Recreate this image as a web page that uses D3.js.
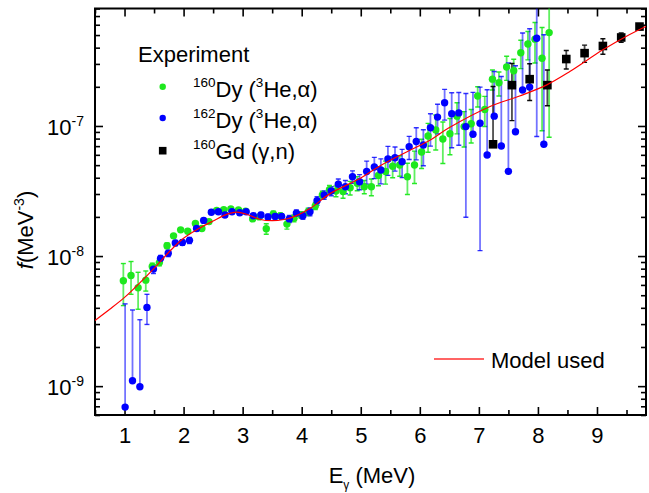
<!DOCTYPE html>
<html><head><meta charset="utf-8">
<script src="https://cdn.jsdelivr.net/npm/d3@7"></script>
<style>
html,body{margin:0;padding:0;background:#fff;}
svg{display:block;font-family:"Liberation Sans",Arial,sans-serif;}
</style></head>
<body><svg id="c" width="649" height="493"></svg>
<script>
// ---------- data ----------
const dy160E = [0.98,1.11,1.23,1.36,1.47,1.59,1.72,1.83,1.95,2.07,2.20,2.31,2.43,2.56,2.68,2.80,2.93,3.05,3.17,3.28,3.40,3.52,3.64,3.75,3.87,3.99,4.11,4.23,4.35,4.47,4.58,4.70,4.82,4.94,5.06,5.18,5.30,5.42,5.54,5.66,5.79,5.91,6.03,6.14,6.27,6.39,6.51,6.63,6.75,6.87,6.98,7.10,7.23,7.34,7.47,7.59,7.71,7.83,7.95,8.07,8.19];
const dy160F = [6.46e-9,7.08e-9,5.70e-9,6.53e-9,8.32e-9,8.91e-9,1.20e-8,1.43e-8,1.59e-8,1.55e-8,1.78e-8,1.63e-8,1.84e-8,2.24e-8,2.27e-8,2.30e-8,2.26e-8,2.21e-8,1.93e-8,2.00e-8,1.62e-8,2.11e-8,2.04e-8,1.76e-8,1.95e-8,2.07e-8,2.19e-8,2.43e-8,2.95e-8,3.24e-8,3.16e-8,3.13e-8,3.35e-8,3.63e-8,3.41e-8,3.41e-8,4.17e-8,4.47e-8,4.90e-8,5.01e-8,4.07e-8,5.01e-8,6.31e-8,8.38e-8,9.33e-8,7.94e-8,8.71e-8,1.19e-7,9.89e-8,1.04e-7,1.70e-7,1.34e-7,2.29e-7,2.15e-7,2.84e-7,2.66e-7,3.66e-7,4.27e-7,4.65e-7,3.32e-7,5.22e-7];
const dy160Err = [2.3e-9,2.0e-9,1.8e-9,1.15e-9,0.5e-9,0.5e-9,0.06e-8,0.05e-8,0.05e-8,0.05e-8,0.05e-8,0.05e-8,0.06e-8,0.07e-8,0.07e-8,0.07e-8,0.07e-8,0.08e-8,0.08e-8,0.08e-8,0.15e-8,0.1e-8,0.1e-8,0.15e-8,0.12e-8,0.12e-8,0.14e-8,0.15e-8,0.2e-8,0.25e-8,0.3e-8,0.35e-8,0.4e-8,0.45e-8,0.4e-8,0.5e-8,0.7e-8,0.9e-8,0.9e-8,0.9e-8,1.1e-8,1.4e-8,1.6e-8,2.1e-8,2.8e-8,2.8e-8,2.7e-8,3.2e-8,3.0e-8,3.0e-8,3.0e-8,3.5e-8,4.0e-8,4.5e-8,6.0e-8,6.0e-8,9.0e-8,1.05e-7,1.6e-7,2.4e-7,4.4e-7];

const dy162E = [1.01,1.135,1.26,1.38,1.49,1.61,1.74,1.86,1.98,2.10,2.22,2.34,2.47,2.59,2.70,2.82,2.95,3.06,3.18,3.31,3.43,3.55,3.66,3.79,3.91,4.02,4.14,4.26,4.38,4.50,4.62,4.74,4.86,4.98,5.10,5.23,5.34,5.46,5.58,5.70,5.82,5.94,6.06,6.18,6.30,6.42,6.54,6.66,6.78,6.90,7.02,7.14,7.26,7.38,7.50,7.62,7.74,7.86,7.98,8.10];
const dy162F = [6.9e-10,1.1e-9,9.9e-10,4.03e-9,7.94e-9,9.6e-9,1.05e-8,1.26e-8,1.27e-8,1.32e-8,1.63e-8,1.88e-8,2.17e-8,2.19e-8,2.07e-8,2.19e-8,2.15e-8,2.19e-8,2.04e-8,2.07e-8,2.00e-8,2.02e-8,2.02e-8,1.93e-8,2.14e-8,2.04e-8,2.19e-8,2.66e-8,2.95e-8,3.16e-8,3.56e-8,3.41e-8,4.07e-8,3.73e-8,4.47e-8,4.84e-8,4.59e-8,5.57e-8,5.70e-8,5.31e-8,6.92e-8,7.59e-8,7.15e-8,9.70e-8,1.17e-7,1.51e-7,1.24e-7,1.26e-7,9.89e-8,8.63e-8,1.05e-7,5.98e-8,1.19e-7,7.02e-8,4.48e-8,9.04e-8,1.89e-7,1.99e-7,4.73e-7,7.23e-8];
const dy162Err = [3.6e-9,2.75e-9,2.25e-9,1.05e-9,0.6e-9,0.5e-9,0.06e-8,0.06e-8,0.06e-8,0.07e-8,0.07e-8,0.07e-8,0.08e-8,0.08e-8,0.08e-8,0.08e-8,0.08e-8,0.08e-8,0.08e-8,0.09e-8,0.1e-8,0.1e-8,0.1e-8,0.12e-8,0.12e-8,0.12e-8,0.15e-8,0.2e-8,0.22e-8,0.25e-8,0.35e-8,0.4e-8,0.45e-8,0.5e-8,0.9e-8,0.9e-8,1.0e-8,1.4e-8,1.2e-8,1.3e-8,1.4e-8,2.1e-8,2.2e-8,2.7e-8,3.0e-8,4.0e-8,5.6e-8,5.5e-8,7.9e-8,9.5e-8,9.4e-8,1.3e-7,1.43e-7,1.7e-7,2.6e-7,2.0e-7,3.3e-7,3.6e-7,3.9e-7,4.3e-7];

const gdE = [7.24,7.56,7.86,8.16,8.48,8.79,9.10,9.41,9.72];
const gdF = [7.23e-8,2.06e-7,2.29e-7,2.06e-7,3.27e-7,3.63e-7,4.12e-7,4.79e-7,5.81e-7];
const gdErr = [1.29e-7,0.96e-7,0.72e-7,0.63e-7,0.53e-7,0.55e-7,0.56e-7,0.4e-7,0.3e-7];

const modelE = [0.5,0.75,1.0,1.25,1.5,1.75,2.0,2.25,2.5,2.75,2.9,3.1,3.3,3.5,3.7,3.86,4.14,4.48,5.0,5.33,5.84,6.17,6.48,7.19,7.69,8.15,8.54,9.1,9.5,9.88];
const modelF = [3.2e-9,3.9e-9,4.81e-9,6.17e-9,8.04e-9,1.07e-8,1.37e-8,1.62e-8,1.86e-8,2.11e-8,2.18e-8,2.07e-8,1.91e-8,1.87e-8,1.91e-8,2.0e-8,2.32e-8,3.02e-8,3.98e-8,4.95e-8,6.53e-8,7.76e-8,9.59e-8,1.41e-7,1.70e-7,2.07e-7,2.62e-7,3.85e-7,4.9e-7,5.98e-7];

const xMajorTicks = [1,2,3,4,5,6,7,8,9];
const xMinorTicks = [0.5,1.5,2.5,3.5,4.5,5.5,6.5,7.5,8.5,9.5];
const yMajorTicks = [1e-9,1e-8,1e-7];
const yMajorExp = ["-9","-8","-7"];
const yMinorMult = [2,3,4,5,6,7,8,9];
const legendItems = [
  {iso:"160", name:"Dy (", sup:"3", rest:"He,\u03b1)"},
  {iso:"162", name:"Dy (", sup:"3", rest:"He,\u03b1)"},
  {iso:"160", name:"Gd (\u03b3,n)", sup:"", rest:""}
];

// ---------- layout ----------
const L=95, R=646, T=8.5, B=415;
const GREEN="#1ee81e", BLUE="#0000ff", FONT=22;
const svg = d3.select("#c");
const x = d3.scaleLinear().domain([0.5, 9.83]).range([L, R]);
const y = d3.scaleLog().domain([6e-10, 8e-7]).range([B, T]);

svg.append("defs").append("clipPath").attr("id","clip")
  .append("rect").attr("x",L).attr("y",T).attr("width",R-L).attr("height",B-T);

const yMinorTicks = [];
[-10,-9,-8,-7].forEach(e => yMinorMult.forEach(m => {
  const v = m*Math.pow(10,e);
  if (v >= 6e-10*0.999 && v <= 8e-7*1.001) yMinorTicks.push(v);
}));

function styleAxis(g){ g.select(".domain").remove(); g.selectAll("line").attr("stroke","#000").attr("stroke-width",1.6); }

// bottom
svg.append("g").attr("transform",`translate(0,${B})`)
  .call(d3.axisBottom(x).tickValues(xMajorTicks).tickSize(-8).tickPadding(12).tickFormat(d3.format("d")))
  .call(styleAxis)
  .call(g=>g.selectAll("text").attr("font-size",FONT).attr("font-family","Liberation Sans, Arial, sans-serif").attr("fill","#000"));
svg.append("g").attr("transform",`translate(0,${B})`)
  .call(d3.axisBottom(x).tickValues(xMinorTicks).tickSize(-5).tickFormat("")).call(styleAxis);
// top
svg.append("g").attr("transform",`translate(0,${T})`)
  .call(d3.axisTop(x).tickValues(xMajorTicks).tickSize(-8).tickFormat("")).call(styleAxis);
svg.append("g").attr("transform",`translate(0,${T})`)
  .call(d3.axisTop(x).tickValues(xMinorTicks).tickSize(-5).tickFormat("")).call(styleAxis);
// left
svg.append("g").attr("transform",`translate(${L},0)`)
  .call(d3.axisLeft(y).tickValues(yMajorTicks).tickSize(-8).tickFormat("")).call(styleAxis);
svg.append("g").attr("transform",`translate(${L},0)`)
  .call(d3.axisLeft(y).tickValues(yMinorTicks).tickSize(-5).tickFormat("")).call(styleAxis);
// right
svg.append("g").attr("transform",`translate(${R},0)`)
  .call(d3.axisRight(y).tickValues(yMajorTicks).tickSize(-8).tickFormat("")).call(styleAxis);
svg.append("g").attr("transform",`translate(${R},0)`)
  .call(d3.axisRight(y).tickValues(yMinorTicks).tickSize(-5).tickFormat("")).call(styleAxis);

// y tick labels with superscripts
yMajorTicks.forEach((v,i)=>{
  const t = svg.append("text").attr("x",L-11).attr("y",y(v)+9).attr("text-anchor","end")
    .attr("font-size",FONT).attr("fill","#000");
  t.append("tspan").text("10");
  t.append("tspan").attr("font-size",14).attr("dy",-9).text(yMajorExp[i]);
});

// frame
svg.append("rect").attr("x",L).attr("y",T).attr("width",R-L).attr("height",B-T)
  .attr("fill","none").attr("stroke","#000").attr("stroke-width",2);

// ---------- data layers ----------
const plot = svg.append("g").attr("clip-path","url(#clip)");

function errorBars(E,F,Er,color,op){
  const g = plot.append("g");
  E.forEach((e,i)=>{
    const v=F[i], er=Er[i], up=v+er, lo=v-er;
    const px=x(e), yUp=y(up), yV=y(v);
    const yLo = lo>0 ? y(lo) : yV;
    g.append("line").attr("x1",px).attr("x2",px).attr("y1",yUp).attr("y2",yLo)
      .attr("stroke",color).attr("stroke-width",1.8).attr("stroke-opacity",op);
    g.append("line").attr("x1",px-2.5).attr("x2",px+2.5).attr("y1",yUp).attr("y2",yUp)
      .attr("stroke",color).attr("stroke-width",1.4).attr("stroke-opacity",Math.min(1,op+0.25));
    if (lo>0) g.append("line").attr("x1",px-2.5).attr("x2",px+2.5).attr("y1",yLo).attr("y2",yLo)
      .attr("stroke",color).attr("stroke-width",1.4).attr("stroke-opacity",Math.min(1,op+0.25));
  });
}
errorBars(dy160E,dy160F,dy160Err,GREEN,0.7);
errorBars(dy162E,dy162F,dy162Err,BLUE,0.55);
errorBars(gdE,gdF,gdErr,"#000",0.7);

plot.append("g").selectAll("circle").data(dy160E).join("circle")
  .attr("cx",d=>x(d)).attr("cy",(d,i)=>y(dy160F[i])).attr("r",3.7).attr("fill",GREEN);
plot.append("g").selectAll("circle").data(dy162E).join("circle")
  .attr("cx",d=>x(d)).attr("cy",(d,i)=>y(dy162F[i])).attr("r",3.7).attr("fill",BLUE);
plot.append("g").selectAll("rect").data(gdE).join("rect")
  .attr("x",d=>x(d)-4.3).attr("y",(d,i)=>y(gdF[i])-4.3).attr("width",8.6).attr("height",8.6).attr("fill","#000");

const line = d3.line().x((d,i)=>x(modelE[i])).y((d,i)=>y(modelF[i])).curve(d3.curveCatmullRom);
plot.append("path").datum(modelE).attr("d",line).attr("fill","none").attr("stroke","#ff0000").attr("stroke-width",1.2);

// ---------- legend ----------
svg.append("text").attr("x",138).attr("y",62).attr("font-size",FONT).text("Experiment");
const legY = [97,128,159];
svg.append("circle").attr("cx",162.7).attr("cy",86.7).attr("r",3.2).attr("fill",GREEN);
svg.append("circle").attr("cx",162.7).attr("cy",118).attr("r",3.2).attr("fill",BLUE);
svg.append("rect").attr("x",162.7-3.8).attr("y",150.7-3.8).attr("width",7.6).attr("height",7.6).attr("fill","#000");
legendItems.forEach((it,i)=>{
  const t = svg.append("text").attr("x",193).attr("y",legY[i]).attr("font-size",FONT);
  t.append("tspan").attr("font-size",13.5).attr("dy",-10.5).text(it.iso);
  t.append("tspan").attr("dy",10.5).text(it.name);
  if (it.sup) {
    t.append("tspan").attr("font-size",13.5).attr("dy",-10.5).text(it.sup);
    t.append("tspan").attr("dy",10.5).text(it.rest);
  }
});
svg.append("line").attr("x1",434).attr("x2",484).attr("y1",359).attr("y2",359)
  .attr("stroke","#ff3030").attr("stroke-width",1.5);
svg.append("text").attr("x",491).attr("y",367.5).attr("font-size",FONT).text("Model used");

// ---------- axis titles ----------
const xt = svg.append("text").attr("x",372).attr("y",483).attr("text-anchor","middle").attr("font-size",22);
xt.append("tspan").text("E");
xt.append("tspan").attr("font-size",12).attr("dy",6).text("\u03b3");
xt.append("tspan").attr("dy",-6).text(" (MeV)");

const yt = svg.append("text").attr("transform","translate(33,230) rotate(-90)").attr("text-anchor","middle").attr("font-size",22);
yt.append("tspan").attr("font-style","italic").text("f");
yt.append("tspan").text("(MeV");
yt.append("tspan").attr("font-size",14).attr("dy",-9).text("-3");
yt.append("tspan").attr("dy",9).text(")");
</script></body></html>
